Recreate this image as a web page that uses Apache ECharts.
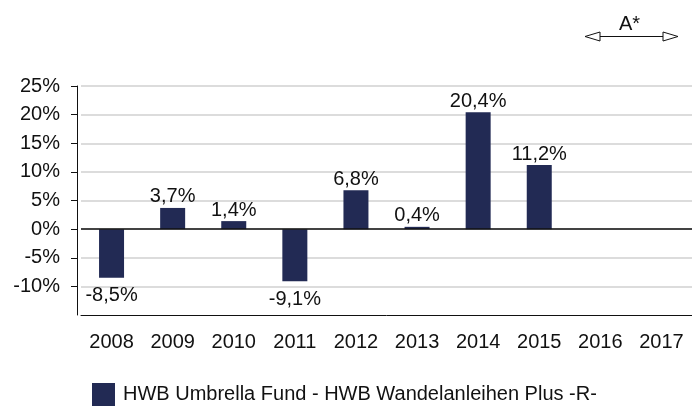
<!DOCTYPE html>
<html>
<head>
<meta charset="utf-8">
<script src="https://cdn.jsdelivr.net/npm/echarts@6/dist/echarts.min.js"></script>
<style>
  html, body { margin: 0; padding: 0; background: #fff; }
  #chart { width: 692px; height: 408px; }
</style>
</head>
<body>
<div id="chart"></div>
<script>
// data
var years = ['2008', '2009', '2010', '2011', '2012', '2013', '2014', '2015', '2016', '2017'];
var returns = [-8.5, 3.7, 1.4, -9.1, 6.8, 0.4, 20.4, 11.2, null, null];
var yTicks = [-10, -5, 0, 5, 10, 15, 20, 25];
var seriesName = 'HWB Umbrella Fund - HWB Wandelanleihen Plus -R-';

var font = 'Liberation Sans, Arial, sans-serif';
var navy = '#222a54';

function pct(v) {
  return v.toFixed(1).replace('.', ',') + '%';
}

var chartDom = document.getElementById('chart');
var myChart = echarts.init(chartDom);
var option;

option = {
  animation: false,
  textStyle: { fontFamily: font },
  grid: { left: 81, right: 0, top: 86, bottom: 93 },
  legend: {
    left: 87,
    top: 378,
    icon: 'rect',
    itemWidth: 23,
    itemHeight: 23,
    textStyle: { fontSize: 20, color: '#111', fontFamily: font, padding: [0, 0, 0, 3] },
    data: [seriesName]
  },
  xAxis: {
    type: 'category',
    data: years,
    axisLine: { onZero: false, lineStyle: { color: '#111', width: 1 } },
    axisTick: { alignWithLabel: true, length: 6, lineStyle: { color: '#111' } },
    axisLabel: { color: '#111', fontSize: 20, margin: 17, fontFamily: font }
  },
  yAxis: {
    type: 'value',
    min: -15,
    max: 25,
    interval: 5,
    offset: 4,
    axisLine: { show: true, lineStyle: { color: '#111', width: 1 } },
    axisTick: { show: true, length: 6, customValues: yTicks, lineStyle: { color: '#111' } },
    axisLabel: {
      color: '#111',
      fontSize: 20,
      margin: 17,
      fontFamily: font,
      customValues: yTicks,
      formatter: function (v) { return v + '%'; }
    },
    splitLine: { lineStyle: { color: '#dcdcdc', width: 2 } }
  },
  series: [
    {
      name: seriesName,
      type: 'bar',
      barWidth: 25,
      itemStyle: { color: navy },
      label: {
        show: true,
        position: 'top',
        distance: 1,
        fontSize: 20,
        color: '#111',
        fontFamily: font,
        formatter: function (p) { return p.value == null ? '' : pct(p.value); }
      },
      markLine: {
        silent: true,
        symbol: 'none',
        label: { show: false },
        lineStyle: { color: '#111', width: 1.5, type: 'solid' },
        data: [{ yAxis: 0 }]
      }
    }
  ],
  graphic: [
    {
      type: 'text',
      left: 619,
      top: 14,
      style: { text: 'A*', fontSize: 20, fill: '#111', fontFamily: font }
    },
    {
      type: 'line',
      shape: { x1: 600, y1: 36.5, x2: 663, y2: 36.5 },
      style: { stroke: '#111', lineWidth: 1 }
    },
    {
      type: 'polygon',
      shape: { points: [[585, 36.5], [600, 32], [600, 41]] },
      style: { fill: '#fff', stroke: '#111', lineWidth: 1 }
    },
    {
      type: 'polygon',
      shape: { points: [[678, 36.5], [663, 32], [663, 41]] },
      style: { fill: '#fff', stroke: '#111', lineWidth: 1 }
    }
  ]
};

// negative bars get their labels below
option.series[0].data = returns.map(function (v) {
  if (v != null && v < 0) {
    return { value: v, label: { position: 'bottom', distance: 8 } };
  }
  return v;
});

if (option && typeof option === 'object') {
  myChart.setOption(option);
}
</script>
</body>
</html>
